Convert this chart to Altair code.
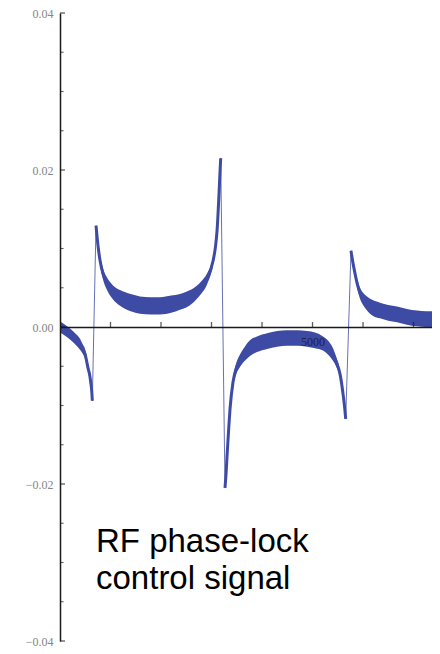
import altair as alt
import pandas as pd

# ---------------- data ----------------
# segment A : start -> first negative dip
seg_a_x = [0, 100, 198, 300, 396, 450, 495, 554, 590, 614, 630, 640]
seg_a_y = [0.0000, -0.0004, -0.0009, -0.0015, -0.0022, -0.0028, -0.0034,
           -0.0052, -0.0062, -0.0073, -0.0083, -0.0094]
seg_a_hw = [0.0007, 0.0007, 0.0007, 0.0007, 0.0007, 0.0006, 0.0006,
            0.0005, 0.0005, 0.0004, 0.0003, 0.0002]

# segment B : positive U between first jump and big peak
seg_b_x = [713, 750, 792, 850, 931, 1050, 1188, 1400, 1584, 1800, 1980, 2200,
           2376, 2500, 2634, 2780, 2911, 3030, 3080, 3109, 3149, 3170, 3182]
seg_b_y = [0.0129, 0.0105, 0.0085, 0.0068, 0.0055, 0.0044, 0.0037, 0.0031,
           0.0028, 0.0027, 0.0027, 0.0029, 0.0032, 0.0035, 0.0040, 0.0049,
           0.0061, 0.0084, 0.0103, 0.0122, 0.0170, 0.0200, 0.0215]
seg_b_hw = [0.0002, 0.0004, 0.0005, 0.0007, 0.0008, 0.0009, 0.0010, 0.0011,
            0.0011, 0.0011, 0.0011, 0.0011, 0.0010, 0.0010, 0.0009, 0.0008,
            0.0007, 0.0005, 0.0004, 0.0003, 0.0003, 0.0002, 0.0002]

# segment C : negative U after the big jump
seg_c_x = [3267, 3290, 3307, 3340, 3366, 3426, 3490, 3564, 3660, 3762, 3900,
           4099, 4300, 4495, 4700, 4891, 5050, 5208, 5320, 5406, 5480, 5545,
           5604, 5640, 5657]
seg_c_y = [-0.0205, -0.0185, -0.0165, -0.0130, -0.0105, -0.0070, -0.0053,
           -0.0043, -0.0034, -0.0027, -0.0022, -0.0018, -0.0015, -0.0014,
           -0.0014, -0.0015, -0.0017, -0.0021, -0.0027, -0.0035, -0.0046,
           -0.0060, -0.0085, -0.0105, -0.0117]
seg_c_hw = [0.0002, 0.0002, 0.0003, 0.0004, 0.0005, 0.0006, 0.0007, 0.0008,
            0.0009, 0.0010, 0.0010, 0.0010, 0.0010, 0.0010, 0.0010, 0.0010,
            0.0010, 0.0009, 0.0009, 0.0008, 0.0006, 0.0005, 0.0004, 0.0003,
            0.0002]

# segment D : decay after the last jump
seg_d_x = [5762, 5800, 5842, 5890, 5941, 6010, 6079, 6200, 6337, 6500, 6673,
           6870, 7069, 7250, 7386, 7525]
seg_d_y = [0.0097, 0.0082, 0.0068, 0.0054, 0.0043, 0.0035, 0.0030, 0.0024,
           0.0021, 0.0018, 0.0016, 0.0013, 0.0011, 0.0010, 0.0010, 0.0009]
seg_d_hw = [0.0002, 0.0003, 0.0005, 0.0006, 0.0007, 0.0008, 0.0009, 0.0010,
            0.0010, 0.0010, 0.0010, 0.0010, 0.0010, 0.0010, 0.0010, 0.0010]

y_label_values = [-0.04, -0.02, 0.0, 0.02, 0.04]
y_minor_ticks = [-0.035, -0.03, -0.025, -0.015, -0.01, -0.005,
                 0.005, 0.01, 0.015, 0.025, 0.03, 0.035]
x_ticks = [1000, 2000, 3000, 4000, 5000, 6000, 7000]
x_label_values = [5000]

note_text = "RF phase-lock\ncontrol signal"
note_x = [713]
note_y = [-0.0287]

# ---------------- tables ----------------
rows = []
for name, xs_, ys_, hs_ in [("A", seg_a_x, seg_a_y, seg_a_hw),
                            ("B", seg_b_x, seg_b_y, seg_b_hw),
                            ("C", seg_c_x, seg_c_y, seg_c_hw),
                            ("D", seg_d_x, seg_d_y, seg_d_hw)]:
    for a, b, c in zip(xs_, ys_, hs_):
        rows.append({"x": a, "y": b, "hw": c, "seg": name})
sig = pd.DataFrame(rows)
sig["lo"] = sig["y"] - sig["hw"]
sig["hi"] = sig["y"] + sig["hw"]

ymaj = pd.DataFrame({"y": y_label_values, "x": 0})
ymin = pd.DataFrame({"y": y_minor_ticks, "x": 0})
xt = pd.DataFrame({"x": x_ticks, "y": 0.0})
note = pd.DataFrame({"x": note_x, "y": note_y, "t": [note_text]})

BLUE = "#3e4ba4"
W, H = 372, 628

xscale = alt.Scale(domain=[0, 7366], nice=False, zero=False)
yscale = alt.Scale(domain=[-0.04, 0.04], nice=False, zero=False)

xaxis = alt.Axis(values=x_label_values, format="d", ticks=False, grid=False,
                 offset=-H / 2, domainColor="#1a1a1a", domainWidth=1.5,
                 labelColor="#20204a", labelFont="Liberation Serif",
                 labelFontSize=12, labelPadding=9, title="", zindex=2)
yaxis = alt.Axis(values=y_label_values, format=".2f", ticks=False, grid=False,
                 domainColor="#1a1a1a", domainWidth=1.5,
                 labelColor="#858585", labelFont="Liberation Serif",
                 labelFontSize=12, labelPadding=7, title="", zindex=2)


def X(f="x"):
    return alt.X(f + ":Q", scale=xscale, axis=xaxis, title="")


def Y(f="y"):
    return alt.Y(f + ":Q", scale=yscale, axis=yaxis, title="")


thin = alt.Chart(sig).mark_line(color="#6870b4", strokeWidth=1, clip=True).encode(
    x=X(), y=Y(), order="x:Q")

band = alt.Chart(sig).mark_area(color=BLUE, opacity=1, clip=True,
                                interpolate="monotone").encode(
    x=X(), y=Y("lo"), y2="hi:Q", detail="seg:N")

thick = alt.Chart(sig).mark_line(color=BLUE, strokeWidth=3, clip=True,
                                 interpolate="monotone").encode(
    x=X(), y=Y(), detail="seg:N")

ytick_major = alt.Chart(ymaj).mark_tick(orient="horizontal", color="#1a1a1a",
                                        size=5, thickness=1.3, xOffset=2.5).encode(
    x=X(), y=Y())
ytick_minor = alt.Chart(ymin).mark_tick(orient="horizontal", color="#1a1a1a",
                                        size=3.5, thickness=1.1, xOffset=1.8).encode(
    x=X(), y=Y())
xtick = alt.Chart(xt).mark_tick(orient="vertical", color="#1a1a1a",
                                size=5, thickness=1.3, yOffset=-2.5).encode(
    x=X(), y=Y())

label = alt.Chart(note).mark_text(align="left", baseline="alphabetic",
                                  font="Liberation Sans", fontSize=33,
                                  lineBreak="\n", lineHeight=37,
                                  color="#000000").encode(
    x=X(), y=Y(), text="t:N")

chart = alt.layer(thin, band, thick, ytick_major, ytick_minor, xtick, label).properties(
    width=W, height=H,
    autosize=alt.AutoSizeParams(type="none"),
    padding={"left": 52, "top": 5, "right": 0, "bottom": 6},
    background="white",
).configure_view(strokeWidth=0)

chart.save("out.html", embed_options={"renderer": "svg", "actions": False})
